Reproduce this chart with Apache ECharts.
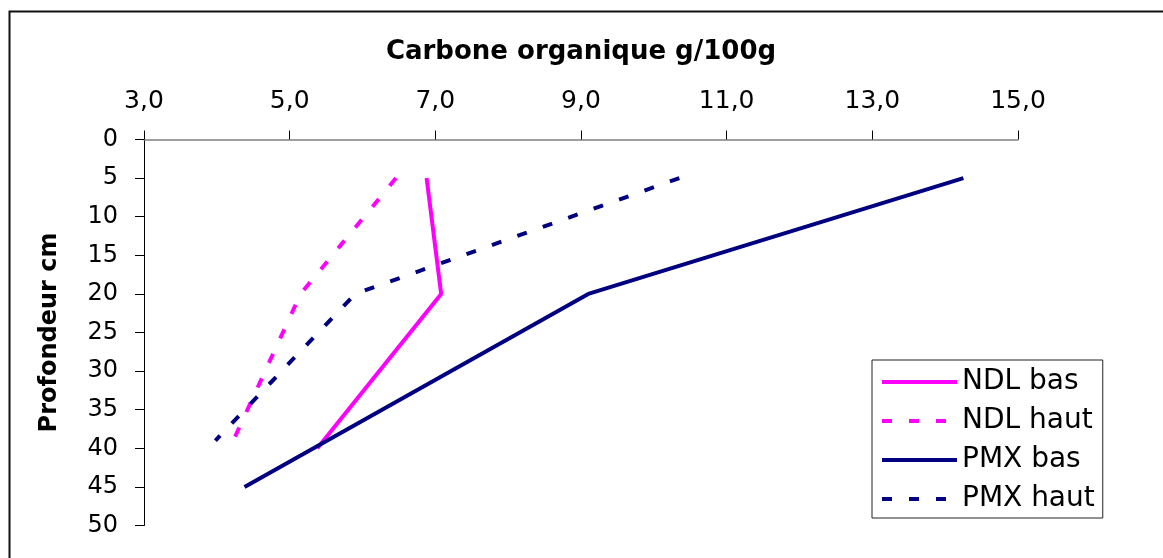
<!DOCTYPE html>
<html>
<head>
<meta charset="utf-8">
<script src="https://cdn.jsdelivr.net/npm/echarts@6/dist/echarts.min.js"></script>
<style>
  html, body { margin: 0; padding: 0; background: #fff; }
  #chart { width: 1163px; height: 558px; }
</style>
</head>
<body>
<div id="chart"></div>
<script>
// Carbone organique (g/100g) by depth (cm), two sites, low and high positions
const carbonTicks = [3, 5, 7, 9, 11, 13, 15];

const ndlBasCarbon = [6.88, 7.08, 5.38];
const ndlBasDepth = [5, 20, 40];

const ndlHautCarbon = [6.46, 5.15, 4.25];
const ndlHautDepth = [5, 20, 38.5];

const pmxBasCarbon = [14.25, 9.1, 4.38];
const pmxBasDepth = [5, 20, 45];

const pmxHautCarbon = [10.35, 5.9, 3.98];
const pmxHautDepth = [5, 20, 39];

const seriesNames = ['NDL bas', 'NDL haut', 'PMX bas', 'PMX haut'];

function pairs(xs, ys) {
  return xs.map((x, i) => [x, ys[i]]);
}

const FONT = 'DejaVu Sans';
const MAGENTA = '#FF00FF';
const NAVY = '#000080';
const DASH = [10, 17];

function lineSeries(name, xs, ys, color, dashed) {
  return {
    name: name,
    type: 'line',
    data: pairs(xs, ys),
    symbol: 'none',
    showSymbol: false,
    animation: false,
    lineStyle: { color: color, width: 4, type: dashed ? DASH : 'solid', cap: 'butt' },
    itemStyle: { color: color }
  };
}

const chart = echarts.init(document.getElementById('chart'), null, { renderer: 'canvas' });

chart.setOption({
  animation: false,
  backgroundColor: '#ffffff',
  grid: { left: 144, right: 145, top: 139.5, bottom: 32.5, containLabel: false },
  graphic: [{
    type: 'rect',
    shape: { x: 9.5, y: 11.5, width: 2000, height: 2000 },
    style: { fill: 'none', stroke: '#111', lineWidth: 2 },
    silent: true,
    z: 100
  }],
  legend: {
    orient: 'vertical',
    left: 872,
    top: 360,
    data: seriesNames,
    backgroundColor: '#fff',
    borderColor: '#222',
    borderWidth: 1,
    borderRadius: 0,
    padding: [7, 8, 4, 8],
    itemWidth: 75,
    itemHeight: 30,
    itemGap: 9,
    itemStyle: { opacity: 0, borderWidth: 0 },
    lineStyle: { width: 4 },
    textStyle: { fontFamily: FONT, fontSize: 28, color: '#000', lineHeight: 30, padding: [0, 0, 0, 0] }
  },
  xAxis: {
    type: 'value',
    position: 'top',
    min: 3,
    max: 15,
    interval: 2,
    name: 'Carbone organique g/100g',
    nameLocation: 'middle',
    nameGap: 74,
    nameTextStyle: { fontFamily: FONT, fontSize: 26, fontWeight: 'bold', color: '#000' },
    axisLine: { show: true, lineStyle: { color: '#808080', width: 1.5 } },
    axisTick: { show: true, length: 9, customValues: carbonTicks, lineStyle: { color: '#000', width: 1 } },
    axisLabel: {
      customValues: carbonTicks,
      margin: 26,
      fontFamily: FONT,
      fontSize: 25,
      color: '#000',
      formatter: v => v.toFixed(1).replace('.', ',')
    },
    splitLine: { show: false }
  },
  yAxis: {
    type: 'value',
    inverse: true,
    min: 0,
    max: 50,
    interval: 5,
    name: 'Profondeur cm',
    nameLocation: 'middle',
    nameGap: 82,
    nameTextStyle: { fontFamily: FONT, fontSize: 24, fontWeight: 'bold', color: '#000' },
    axisLine: { show: true, lineStyle: { color: '#000', width: 1 } },
    axisTick: { show: true, length: 9, lineStyle: { color: '#000', width: 1 } },
    axisLabel: { margin: 26, fontFamily: FONT, fontSize: 24, color: '#000' },
    splitLine: { show: false }
  },
  series: [
    lineSeries(seriesNames[0], ndlBasCarbon, ndlBasDepth, MAGENTA, false),
    lineSeries(seriesNames[1], ndlHautCarbon, ndlHautDepth, MAGENTA, true),
    lineSeries(seriesNames[2], pmxBasCarbon, pmxBasDepth, NAVY, false),
    lineSeries(seriesNames[3], pmxHautCarbon, pmxHautDepth, NAVY, true)
  ]
});
</script>
</body>
</html>
